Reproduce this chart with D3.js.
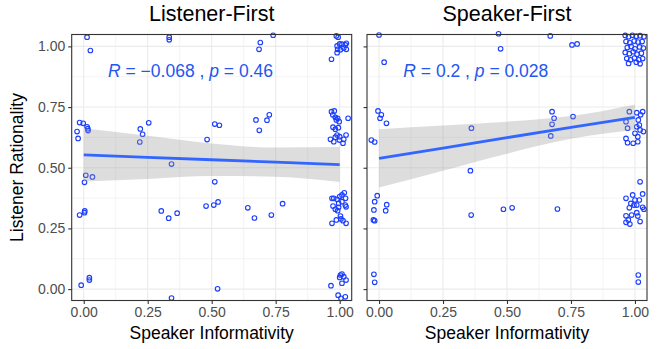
<!DOCTYPE html>
<html>
<head>
<meta charset="utf-8">
<script src="https://cdn.jsdelivr.net/npm/d3@7"></script>
<style>
  body { margin: 0; background: #fff; }
  svg { font-family: "Liberation Sans", Arial, sans-serif; }
</style>
</head>
<body>
<svg id="chart"></svg>
<script>
const width = 657, height = 349;

// panel names and correlation labels
const panels = ['Listener-First', 'Speaker-First'];
const rLabels = ['\u22120.068', '0.2'];
const pLabels = ['0.46', '0.028'];

const xTicks = [0, 0.25, 0.5, 0.75, 1];
const yTicks = [0, 0.25, 0.5, 0.75, 1];
const tickFmt = d3.format('.2f');

// fitted line + confidence band, read at x = 0, .25, .5, .75, 1
const fitX = [0, 0.25, 0.5, 0.75, 1];
const fitLF = [0.553, 0.543, 0.533, 0.523, 0.513];
const loLF = [0.443, 0.454, 0.466, 0.463, 0.441];
const hiLF = [0.663, 0.632, 0.600, 0.583, 0.585];
const fitSF = [0.539, 0.581, 0.624, 0.666, 0.708];
const loSF = [0.419, 0.488, 0.558, 0.619, 0.655];
const hiSF = [0.659, 0.674, 0.690, 0.713, 0.761];

// points (jittered), Listener-First
const pointsLF = [
  [0.013,1.038],[0.026,0.983],[-0.016,0.686],[-0.002,0.683],[-0.026,0.649],[-0.022,0.621],
  [0.013,0.669],[0.016,0.661],[0.017,0.653],[0.008,0.469],[0.034,0.462],[0.003,0.44],
  [-0.016,0.305],[0.003,0.315],[0.004,0.322],[-0.01,0.016],[0.022,0.047],[0.022,0.037],
  [0.221,0.66],[0.23,0.638],[0.254,0.685],[0.219,0.606],[0.343,0.515],[0.482,0.616],
  [0.334,1.038],[0.334,1.027],[0.512,0.68],[0.53,0.675],[0.69,1.016],[0.685,0.988],
  [0.74,1.046],[0.673,0.697],[0.725,0.718],[0.716,0.696],[0.686,0.654],[0.968,0.947],
  [0.987,1.043],[0.994,1.038],[0.99,1.002],[1.0,1.01],[1.009,1.009],[1.022,1.006],
  [1.026,1.013],[0.992,0.988],[1.003,0.986],[1.026,0.988],[0.99,0.974],[1.016,0.993],
  [0.968,0.731],[0.979,0.734],[0.973,0.718],[0.983,0.708],[0.992,0.704],[0.987,0.697],
  [0.998,0.69],[1.033,0.704],[0.974,0.667],[0.983,0.659],[0.995,0.665],[0.99,0.635],
  [0.983,0.626],[0.964,0.617],[0.977,0.607],[0.999,0.614],[1.016,0.617],[1.025,0.635],
  [1.013,0.601],[1.0,0.628],
  [0.512,0.442],[0.478,0.342],[0.508,0.346],[0.525,0.359],[0.641,0.335],[0.667,0.293],
  [0.733,0.305],[0.777,0.352],[0.523,0.001],[0.303,0.322],[0.332,0.292],[0.365,0.313],
  [0.343,-0.037],
  [0.97,0.374],[0.977,0.374],[0.99,0.37],[1.0,0.381],[1.009,0.388],[1.018,0.397],
  [1.023,0.374],[0.974,0.342],[0.983,0.329],[0.996,0.353],[1.009,0.36],[1.022,0.346],
  [1.025,0.339],[0.992,0.323],[1.003,0.301],[1.005,0.289],[0.987,0.285],[0.97,0.271],
  [1.025,0.271],[1.013,0.282],[0.996,0.337],
  [1.003,0.058],[1.009,0.062],[1.0,0.048],[1.016,0.051],[1.025,0.037],[1.009,0.024],
  [0.966,0.014],[0.994,-0.025],[1.005,-0.038],[1.022,-0.032]
];

// points (jittered), Speaker-First
const pointsSF = [
  [0.0,1.047],[0.02,0.935],[-0.004,0.734],[0.009,0.718],[0.004,0.704],[0.029,0.683],
  [-0.03,0.614],[-0.017,0.606],[0.361,0.663],[0.357,0.488],[0.467,1.052],[0.475,0.99],
  [0.669,1.043],[0.754,1.006],[0.774,1.01],[0.676,0.731],[0.684,0.704],[0.676,0.679],
  [0.671,0.631],[0.758,0.711],
  [0.978,0.731],[1.007,0.727],[1.03,0.731],[0.965,0.69],[0.971,0.663],[1.013,0.697],
  [1.007,0.669],[1.02,0.656],[1.033,0.649],[1.0,0.642],[1.011,0.628],[0.965,0.621],
  [0.971,0.603],[0.993,0.601],[1.011,0.607],[1.017,0.676],[1.022,0.718],
  [0.962,1.045],[0.975,1.04],[0.99,1.046],[1.005,1.042],[1.02,1.044],[1.035,1.04],
  [0.965,1.02],[0.98,1.015],[0.997,1.022],[1.012,1.018],[1.028,1.02],
  [0.97,0.995],[0.985,1.0],[1.0,0.99],[1.018,0.998],[1.033,0.993],
  [0.962,0.975],[0.978,0.97],[0.993,0.978],[1.008,0.968],[1.025,0.972],
  [0.968,0.95],[0.983,0.945],[0.998,0.952],[1.015,0.945],[1.03,0.95],
  [0.975,0.93],[1.005,0.935],[1.02,0.928],
  [-0.007,0.385],[-0.017,0.36],[0.03,0.348],[-0.02,0.326],[0.026,0.323],[-0.022,0.285],
  [-0.017,0.282],[-0.02,0.061],[-0.017,0.028],[0.36,0.305],[0.486,0.329],[0.52,0.335],
  [0.697,0.33],
  [1.02,0.442],[0.965,0.374],[0.991,0.388],[1.03,0.392],[1.0,0.367],[1.017,0.367],
  [0.984,0.353],[1.007,0.346],[1.03,0.337],[1.035,0.329],[0.978,0.335],[0.965,0.302],
  [0.987,0.305],[1.007,0.315],[1.011,0.301],[0.974,0.285],[0.965,0.275],[0.98,0.268],
  [1.02,0.278],[0.996,0.346],
  [1.013,0.058],[1.013,0.029]
];

const panelData = [
  { name: panels[0], pts: pointsLF, fit: fitLF, lo: loLF, hi: hiLF, r: rLabels[0], p: pLabels[0] },
  { name: panels[1], pts: pointsSF, fit: fitSF, lo: loSF, hi: hiSF, r: rLabels[1], p: pLabels[1] }
];

const panelW = 280, panelTop = 34.5, panelBottom = 300.5;
const panelLeft = [71.7, 367];

const svg = d3.select('#chart')
  .attr('width', width)
  .attr('height', height);

const y = d3.scaleLinear().domain([-0.047, 1.049]).range([panelBottom, panelTop]);

panelData.forEach((pd, i) => {
  const x = d3.scaleLinear().domain([-0.047, 1.047]).range([panelLeft[i], panelLeft[i] + panelW]);
  const g = svg.append('g');

  // grid: minor then major
  const minorX = xTicks.slice(0, -1).map(d => d + 0.125);
  const minorY = yTicks.slice(0, -1).map(d => d + 0.125);
  g.selectAll('.mx').data(minorX).enter().append('line')
    .attr('x1', d => x(d)).attr('x2', d => x(d))
    .attr('y1', panelTop).attr('y2', panelBottom)
    .attr('stroke', '#ebebeb').attr('stroke-width', 0.6);
  g.selectAll('.my').data(minorY).enter().append('line')
    .attr('y1', d => y(d)).attr('y2', d => y(d))
    .attr('x1', x.range()[0]).attr('x2', x.range()[1])
    .attr('stroke', '#ebebeb').attr('stroke-width', 0.6);
  g.selectAll('.gx').data(xTicks).enter().append('line')
    .attr('x1', d => x(d)).attr('x2', d => x(d))
    .attr('y1', panelTop).attr('y2', panelBottom)
    .attr('stroke', '#ebebeb').attr('stroke-width', 1.1);
  g.selectAll('.gy').data(yTicks).enter().append('line')
    .attr('y1', d => y(d)).attr('y2', d => y(d))
    .attr('x1', x.range()[0]).attr('x2', x.range()[1])
    .attr('stroke', '#ebebeb').attr('stroke-width', 1.1);

  // points
  g.selectAll('.pt').data(pd.pts).enter().append('circle')
    .attr('cx', d => x(d[0]))
    .attr('cy', d => y(d[1]))
    .attr('r', 2.3)
    .attr('fill', 'none')
    .attr('stroke', '#1a3dff')
    .attr('stroke-width', 1.1);

  // confidence band
  const band = d3.area()
    .x((d, k) => x(fitX[k]))
    .y0((d, k) => y(pd.lo[k]))
    .y1((d, k) => y(pd.hi[k]))
    .curve(d3.curveMonotoneX);
  g.append('path')
    .attr('d', band(fitX))
    .attr('fill', '#999')
    .attr('fill-opacity', 0.33);

  // fitted line
  const line = d3.line()
    .x((d, k) => x(fitX[k]))
    .y((d, k) => y(pd.fit[k]));
  g.append('path')
    .attr('d', line(fitX))
    .attr('fill', 'none')
    .attr('stroke', '#3366ff')
    .attr('stroke-width', 2.8);

  // correlation label
  const lab = g.append('text')
    .attr('x', x(0.095))
    .attr('y', y(0.9))
    .attr('dy', '0.35em')
    .attr('font-size', 17.5)
    .attr('fill', '#2456f0');
  lab.append('tspan').attr('font-style', 'italic').text('R');
  lab.append('tspan').text(` = ${pd.r} , `);
  lab.append('tspan').attr('font-style', 'italic').text('p');
  lab.append('tspan').text(` = ${pd.p}`);

  // panel border
  g.append('rect')
    .attr('x', x.range()[0]).attr('y', panelTop)
    .attr('width', panelW).attr('height', panelBottom - panelTop)
    .attr('fill', 'none').attr('stroke', '#333').attr('stroke-width', 1.1);

  // x axis
  const xAxis = g.append('g')
    .attr('transform', `translate(0,${panelBottom})`)
    .call(d3.axisBottom(x).tickValues(xTicks).tickFormat(tickFmt).tickSize(3.5).tickPadding(3));
  xAxis.select('.domain').remove();
  xAxis.selectAll('line').attr('stroke', '#333').attr('stroke-width', 1.1);
  xAxis.selectAll('text').attr('fill', '#4d4d4d').attr('font-size', 14)
    .attr('font-family', '"Liberation Sans", Arial, sans-serif');

  // y axis
  const yAxis = g.append('g')
    .attr('transform', `translate(${x.range()[0]},0)`)
    .call(d3.axisLeft(y).tickValues(yTicks).tickFormat(i === 0 ? tickFmt : () => '').tickSize(3.5).tickPadding(3));
  yAxis.select('.domain').remove();
  yAxis.selectAll('line').attr('stroke', '#333').attr('stroke-width', 1.1);
  yAxis.selectAll('text').attr('fill', '#4d4d4d').attr('font-size', 14)
    .attr('font-family', '"Liberation Sans", Arial, sans-serif');

  // panel title
  g.append('text')
    .attr('x', x.range()[0] + panelW / 2)
    .attr('y', 21)
    .attr('text-anchor', 'middle')
    .attr('font-size', 21.5)
    .attr('fill', '#000')
    .text(pd.name);

  // x title
  g.append('text')
    .attr('x', x.range()[0] + panelW / 2)
    .attr('y', 339)
    .attr('text-anchor', 'middle')
    .attr('font-size', 17.5)
    .attr('fill', '#000')
    .text('Speaker Informativity');
});

// y title
svg.append('text')
  .attr('transform', `translate(23,${(panelTop + panelBottom) / 2}) rotate(-90)`)
  .attr('text-anchor', 'middle')
  .attr('font-size', 17.5)
  .attr('fill', '#000')
  .text('Listener Rationality');
</script>
</body>
</html>
